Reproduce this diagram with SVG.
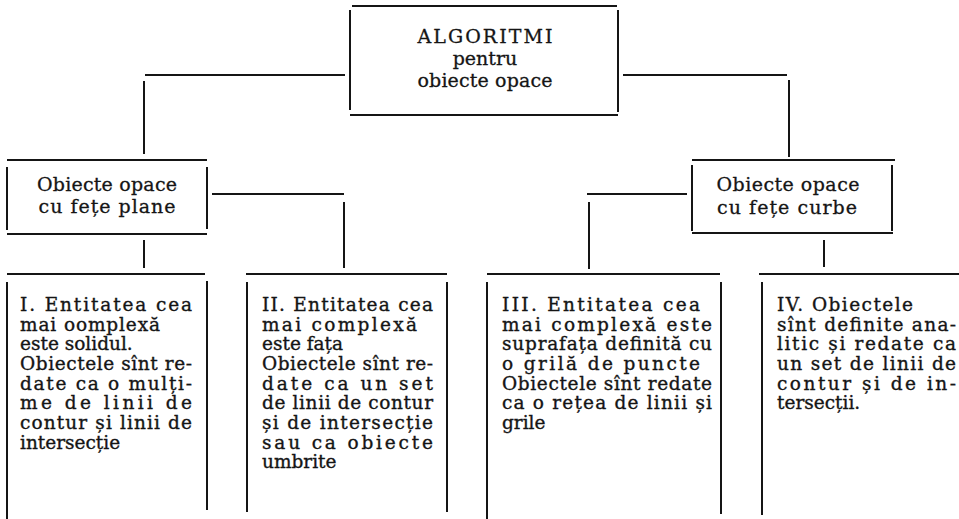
<svg xmlns="http://www.w3.org/2000/svg" width="959" height="519" viewBox="0 0 959 519">
<style>
.e{stroke:#151515;stroke-width:2;fill:none;stroke-linecap:butt}
.t{font-family:"DejaVu Serif","Liberation Serif",serif;font-size:18.5px;fill:#151515;stroke:#151515;stroke-width:0.35}
.h{font-family:"DejaVu Serif","Liberation Serif",serif;font-size:19px;fill:#151515;stroke:#151515;stroke-width:0.3;text-anchor:middle}
</style>
<rect width="959" height="519" fill="#ffffff"/>
<g id="connectors">
<line class="e" x1="145" y1="75" x2="345" y2="75"/>
<line class="e" x1="144" y1="81" x2="144" y2="154"/>
<line class="e" x1="623" y1="75" x2="787" y2="75"/>
<line class="e" x1="789" y1="80" x2="789" y2="157"/>
<line class="e" x1="212" y1="194" x2="344" y2="194"/>
<line class="e" x1="344" y1="202" x2="344" y2="268"/>
<line class="e" x1="144" y1="240" x2="144" y2="268"/>
<line class="e" x1="587" y1="194" x2="687" y2="194"/>
<line class="e" x1="589" y1="202" x2="589" y2="269"/>
<line class="e" x1="824" y1="240" x2="824" y2="267"/>
</g>
<g id="root">
<line class="e" x1="352" y1="6" x2="617" y2="6"/>
<line class="e" x1="350" y1="115" x2="618" y2="115"/>
<line class="e" x1="350" y1="10" x2="350" y2="110"/>
<line class="e" x1="618" y1="10" x2="618" y2="112"/>
<text class="h" x="485" y="43" textLength="135" lengthAdjust="spacing">ALGORITMI</text>
<text class="h" x="485" y="65">pentru</text>
<text class="h" x="485" y="87" textLength="135" lengthAdjust="spacing">obiecte opace</text>
</g>
<g id="plane">
<line class="e" x1="7" y1="160" x2="207" y2="160"/>
<line class="e" x1="7" y1="234" x2="207" y2="234"/>
<line class="e" x1="7" y1="167" x2="7" y2="230"/>
<line class="e" x1="207" y1="167" x2="207" y2="229"/>
<text class="h" x="107" y="191" textLength="140" lengthAdjust="spacing">Obiecte opace</text>
<text class="h" x="107" y="213" textLength="137" lengthAdjust="spacing">cu fețe plane</text>
</g>
<g id="curbe">
<line class="e" x1="692" y1="160" x2="895" y2="160"/>
<line class="e" x1="692" y1="233" x2="893" y2="233"/>
<line class="e" x1="692" y1="165" x2="692" y2="231"/>
<line class="e" x1="892" y1="165" x2="892" y2="231"/>
<text class="h" x="788" y="191" textLength="143" lengthAdjust="spacing">Obiecte opace</text>
<text class="h" x="787" y="214" textLength="140" lengthAdjust="spacing">cu fețe curbe</text>
</g>
<g id="box1">
<line class="e" x1="7" y1="274" x2="205" y2="274"/>
<line class="e" x1="7" y1="282" x2="7" y2="519"/>
<line class="e" x1="207" y1="281" x2="207" y2="510"/>
<text class="t" x="20" y="311" textLength="172" lengthAdjust="spacing">I. Entitatea cea</text>
<text class="t" x="20" y="331" textLength="140" lengthAdjust="spacing">mai oomplexă</text>
<text class="t" x="20" y="350">este solidul.</text>
<text class="t" x="20" y="370" textLength="172" lengthAdjust="spacing">Obiectele sînt re-</text>
<text class="t" x="20" y="390" textLength="172" lengthAdjust="spacing">date ca o mulți-</text>
<text class="t" x="20" y="409" textLength="172" lengthAdjust="spacing">me de linii de</text>
<text class="t" x="20" y="429" textLength="172" lengthAdjust="spacing">contur și linii de</text>
<text class="t" x="20" y="449">intersecție</text>
</g>
<g id="box2">
<line class="e" x1="246" y1="274" x2="447" y2="274"/>
<line class="e" x1="247" y1="282" x2="247" y2="512"/>
<line class="e" x1="447" y1="282" x2="447" y2="512"/>
<text class="t" x="262" y="311" textLength="171" lengthAdjust="spacing">II. Entitatea cea</text>
<text class="t" x="262" y="331" textLength="155" lengthAdjust="spacing">mai complexă</text>
<text class="t" x="262" y="350">este fața</text>
<text class="t" x="262" y="370" textLength="171" lengthAdjust="spacing">Obiectele sînt re-</text>
<text class="t" x="262" y="390" textLength="171" lengthAdjust="spacing">date ca un set</text>
<text class="t" x="262" y="409" textLength="171" lengthAdjust="spacing">de linii de contur</text>
<text class="t" x="262" y="429" textLength="171" lengthAdjust="spacing">și de intersecție</text>
<text class="t" x="262" y="449" textLength="171" lengthAdjust="spacing">sau ca obiecte</text>
<text class="t" x="262" y="468">umbrite</text>
</g>
<g id="box3">
<line class="e" x1="487" y1="274" x2="720" y2="274"/>
<line class="e" x1="487" y1="282" x2="487" y2="519"/>
<line class="e" x1="721" y1="282" x2="721" y2="514"/>
<text class="t" x="502" y="311" textLength="198" lengthAdjust="spacing">III. Entitatea cea</text>
<text class="t" x="502" y="331" textLength="210" lengthAdjust="spacing">mai complexă este</text>
<text class="t" x="502" y="350" textLength="210" lengthAdjust="spacing">suprafața definită cu</text>
<text class="t" x="502" y="370" textLength="198" lengthAdjust="spacing">o grilă de puncte</text>
<text class="t" x="502" y="390" textLength="210" lengthAdjust="spacing">Obiectele sînt redate</text>
<text class="t" x="502" y="409" textLength="210" lengthAdjust="spacing">ca o rețea de linii și</text>
<text class="t" x="502" y="429">grile</text>
</g>
<g id="box4">
<line class="e" x1="759" y1="274" x2="959" y2="274"/>
<line class="e" x1="762" y1="282" x2="762" y2="515"/>
<text class="t" x="777" y="311" textLength="136" lengthAdjust="spacing">IV. Obiectele</text>
<text class="t" x="777" y="331" textLength="179" lengthAdjust="spacing">sînt definite ana-</text>
<text class="t" x="777" y="350" textLength="179" lengthAdjust="spacing">litic și redate ca</text>
<text class="t" x="777" y="370" textLength="179" lengthAdjust="spacing">un set de linii de</text>
<text class="t" x="777" y="390" textLength="179" lengthAdjust="spacing">contur și de in-</text>
<text class="t" x="777" y="409">tersecții.</text>
</g>
</svg>
